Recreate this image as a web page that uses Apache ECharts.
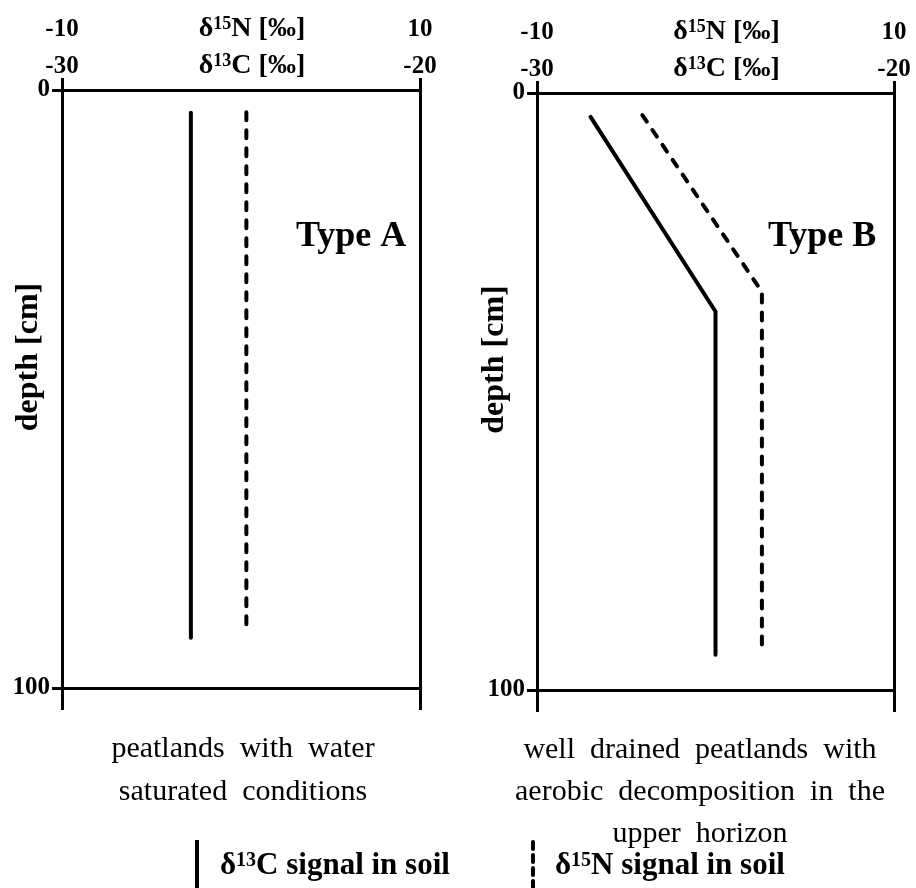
<!DOCTYPE html>
<html><head><meta charset="utf-8">
<script src="https://cdn.jsdelivr.net/npm/echarts@6/dist/echarts.min.js"></script>
<style>html,body{margin:0;padding:0;background:#fff}#c{width:916px;height:888px}</style>
</head><body><div id="c"></div>
<script>
// Type A (left panel)
const depthA_C = [3.8, 91.6];
const c13A = [-26.4, -26.4];
const depthA_N = [3.7, 90.8];
const n15A = [0.3, 0.3];
// Type B (right panel)
const depthB_C = [4.0, 36.6, 94.1];
const c13B = [-28.5, -25.0, -25.0];
const depthB_N = [3.7, 33.3, 93.8];
const n15B = [-4.1, 2.6, 2.6];
// axis ranges / tick labels
const c13Range = [-30, -20];
const n15Range = [-10, 10];
const depthRange = [0, 100];
const captionA = ['peatlands  with  water', 'saturated  conditions'];
const captionB = ['well  drained  peatlands  with', 'aerobic  decomposition  in  the', 'upper  horizon'];

const FF = '"Liberation Serif", "Times New Roman", serif';
const BLACK = '#000';
const rich = {
  b: {fontFamily: FF, fontWeight: 'bold', fontSize: 28, color: BLACK},
  s: {fontFamily: FF, fontWeight: 'bold', fontSize: 18, color: BLACK, verticalAlign: 'top', lineHeight: 28}
};
const pair = (xs, ys) => xs.map((x, i) => [x, ys[i]]);

const grids = [
  {left: 62, top: 90, width: 358, height: 598, containLabel: false, outerBoundsMode: 'none'},
  {left: 537, top: 93, width: 357, height: 597, containLabel: false, outerBoundsMode: 'none'}
];
const tickFont = {fontFamily: FF, fontWeight: 'bold', fontSize: 25, color: BLACK};
const xAxis = [], yAxis = [];
grids.forEach((g, gi) => {
  // top δ13C axis
  xAxis.push({
    gridIndex: gi, type: 'value', position: 'top', min: c13Range[0], max: c13Range[1], interval: 10,
    axisLine: {show: true, onZero: false, lineStyle: {color: BLACK, width: 3}},
    axisTick: {show: true, length: 12, lineStyle: {color: BLACK, width: 3}},
    axisLabel: Object.assign({show: true, margin: 11}, tickFont),
    splitLine: {show: false},
    name: '{b|δ}{s|13}{b|C [‰]}', nameLocation: 'middle', nameGap: 10, nameMoveOverlap: false,
    nameTextStyle: {rich: rich, padding: [0, 0, 0, 22]}
  });
  // top δ15N axis
  xAxis.push({
    gridIndex: gi, type: 'value', position: 'top', offset: 37, min: n15Range[0], max: n15Range[1], interval: 20,
    axisLine: {show: false, onZero: false}, axisTick: {show: false},
    axisLabel: Object.assign({show: true, margin: 11}, tickFont),
    splitLine: {show: false},
    name: '{b|δ}{s|15}{b|N [‰]}', nameLocation: 'middle', nameGap: 10, nameMoveOverlap: false,
    nameTextStyle: {rich: rich, padding: [0, 0, 0, 22]}
  });
  // bottom frame axis
  xAxis.push({
    gridIndex: gi, type: 'value', position: 'bottom', min: c13Range[0], max: c13Range[1], interval: 10,
    axisLine: {show: true, onZero: false, lineStyle: {color: BLACK, width: 3}},
    axisTick: {show: true, length: 22, lineStyle: {color: BLACK, width: 3}},
    axisLabel: {show: false}, splitLine: {show: false}
  });
  yAxis.push({
    gridIndex: gi, type: 'value', position: 'left', inverse: true, min: depthRange[0], max: depthRange[1], interval: 100,
    axisLine: {show: true, onZero: false, lineStyle: {color: BLACK, width: 3}},
    axisTick: {show: true, length: 10, lineStyle: {color: BLACK, width: 3}},
    axisLabel: Object.assign({show: true, margin: 12}, tickFont),
    splitLine: {show: false},
    name: 'depth [cm]', nameLocation: 'middle', nameRotate: 90, nameGap: gi === 0 ? 17 : 26, nameMoveOverlap: false,
    nameTextStyle: {fontFamily: FF, fontWeight: 'bold', fontSize: 32, color: BLACK, padding: [0, 0, 0, 64]}
  });
  yAxis.push({
    gridIndex: gi, type: 'value', position: 'right', inverse: true, min: depthRange[0], max: depthRange[1],
    axisLine: {show: true, onZero: false, lineStyle: {color: BLACK, width: 3}},
    axisTick: {show: false}, axisLabel: {show: false}, splitLine: {show: false}
  });
});

const solid = {color: BLACK, width: 4, cap: 'round', join: 'miter'};
const dashed = {color: BLACK, width: 4, type: [8, 10], cap: 'round', join: 'miter'};
const series = [
  {type: 'line', xAxisIndex: 0, yAxisIndex: 0, data: pair(c13A, depthA_C), showSymbol: false, lineStyle: solid, silent: true},
  {type: 'line', xAxisIndex: 1, yAxisIndex: 0, data: pair(n15A, depthA_N), showSymbol: false, lineStyle: dashed, silent: true},
  {type: 'line', xAxisIndex: 3, yAxisIndex: 2, data: pair(c13B, depthB_C), showSymbol: false, lineStyle: solid, silent: true},
  {type: 'line', xAxisIndex: 4, yAxisIndex: 2, data: pair(n15B, depthB_N), showSymbol: false, lineStyle: dashed, silent: true}
];

const txt = (x, y, text, size, weight, align, extra) => Object.assign({
  type: 'text', x: x, y: y, silent: true,
  style: Object.assign({text: text, fontFamily: FF, fontSize: size, fontWeight: weight, fill: BLACK,
    align: align || 'center', verticalAlign: 'middle'}, extra || {})
});
const legRich = {
  b: {fontFamily: FF, fontWeight: 'bold', fontSize: 31, fill: BLACK},
  s: {fontFamily: FF, fontWeight: 'bold', fontSize: 20, fill: BLACK, verticalAlign: 'top', lineHeight: 31}
};
const graphic = [
  txt(296, 237, 'Type A', 36, 'bold', 'left'),
  txt(768, 237, 'Type B', 36, 'bold', 'left'),
  txt(243, 771, captionA.join('\n'), 30, 'normal', 'center', {lineHeight: 43}),
  txt(700, 792, captionB.join('\n'), 30, 'normal', 'center', {lineHeight: 42}),
  {type: 'line', silent: true, shape: {x1: 197, y1: 840, x2: 197, y2: 888}, style: {stroke: BLACK, lineWidth: 4}},
  {type: 'line', silent: true, shape: {x1: 533, y1: 842, x2: 533, y2: 888}, style: {stroke: BLACK, lineWidth: 4, lineDash: [7, 6], lineCap: 'round'}},
  {type: 'text', x: 220, y: 866, silent: true, style: {text: '{b|δ}{s|13}{b|C signal in soil}', rich: legRich, align: 'left', verticalAlign: 'middle'}},
  {type: 'text', x: 555, y: 866, silent: true, style: {text: '{b|δ}{s|15}{b|N signal in soil}', rich: legRich, align: 'left', verticalAlign: 'middle'}}
];

const chart = echarts.init(document.getElementById('c'), null, {renderer: 'canvas'});
chart.setOption({
  animation: false,
  backgroundColor: '#fff',
  grid: grids,
  xAxis: xAxis,
  yAxis: yAxis,
  series: series,
  graphic: graphic
});
</script>
</body></html>
